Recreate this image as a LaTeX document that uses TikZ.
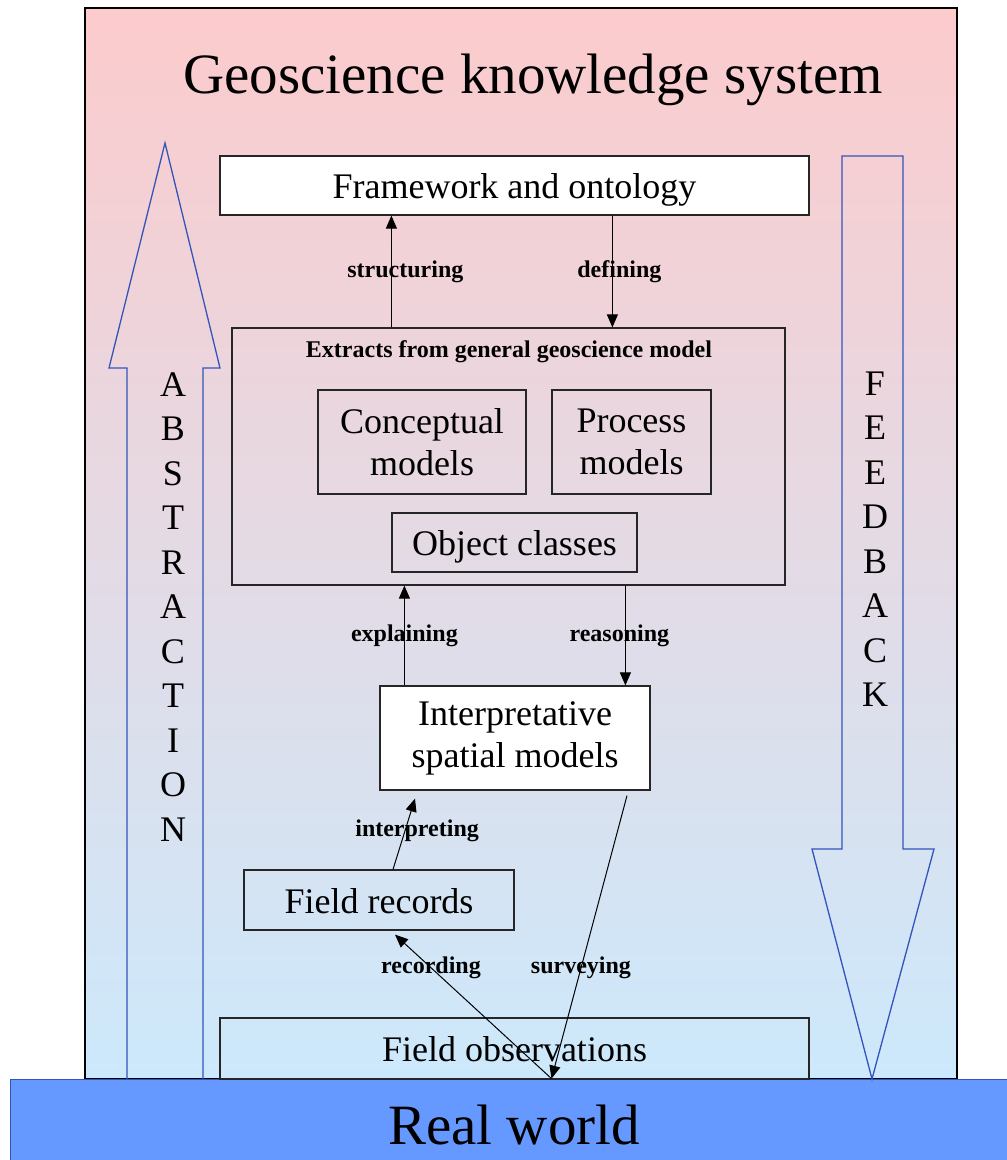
\documentclass[tikz,border=0pt]{standalone}
\usepackage{fontspec}
\setmainfont{Liberation Serif}
\usetikzlibrary{arrows.meta}
\definecolor{toppink}{RGB}{252,203,204}
\definecolor{botblue}{RGB}{204,233,252}
\definecolor{worldblue}{RGB}{102,153,255}
\definecolor{arrowblue}{RGB}{51,85,187}
\begin{document}
\begin{tikzpicture}[x=1pt,y=-1pt,
    box/.style={draw=black!85,line width=1.2pt,inner sep=0pt,align=center,font=\fontsize{36}{42}\selectfont},
    oneline/.style={text height=32pt,text depth=6pt},
    lbl/.style={font=\bfseries\fontsize{24}{26}\selectfont},
    flow/.style={line width=1pt,-{Triangle[length=13pt,width=11pt]}},
    bigarrow/.style={draw=arrowblue,line width=1.3pt},
    stack/.style={align=center,font=\fontsize{36}{44.5}\selectfont}]
  \useasboundingbox (0,0) rectangle (1007,1160);
  \shade[top color=toppink,bottom color=botblue] (85,8) rectangle (957,1079);
  \draw[line width=1.3pt] (85,8) rectangle (957,1079);
  \filldraw[fill=worldblue,draw=arrowblue] (10,1079) rectangle (1007,1160);
  \node[font=\fontsize{57}{60}\selectfont] (world) at (514,1125) {Real world};
  \node[font=\fontsize{57}{60}\selectfont] (title) at (533,80) {Geoscience knowledge system};

  \draw[bigarrow] (127,1079) -- (127,368) -- (109,368) -- (165,143) -- (220,368) -- (203,368) -- (203,1079);
  \draw[bigarrow] (842,156) -- (903,156) -- (903,849) -- (934,849) -- (872,1079) -- (812,849) -- (842,849) -- cycle;
  \node[stack] (abstraction) at (173,607) {A\\B\\S\\T\\R\\A\\C\\T\\I\\O\\N};
  \node[stack] (feedback) at (875,539) {F\\E\\E\\D\\B\\A\\C\\K};

  \node[box,oneline,fill=white,minimum width=589pt,minimum height=59pt] (frame) at (514.5,185.5) {Framework and ontology};
  \node[box,minimum width=553pt,minimum height=257pt] (extracts) at (508.5,456.5) {};
  \node[lbl] (extitle) at (509,352) {Extracts from general geoscience model};
  \node[box,minimum width=208pt,minimum height=104pt] (concept) at (422,442) {Conceptual\\models};
  \node[box,minimum width=159pt,minimum height=104pt] (process) at (631.5,442) {Process\\models};
  \node[box,oneline,minimum width=245pt,minimum height=59pt] (objects) at (514.5,542.5) {Object classes};
  \node[box,fill=white,minimum width=270pt,minimum height=104pt] (interp) at (515,738) {Interpretative\\spatial models};
  \node[box,oneline,minimum width=270pt,minimum height=60pt] (records) at (379,900) {Field records};
  \node[box,oneline,minimum width=589pt,minimum height=61pt] (obs) at (514.5,1048.5) {Field observations};

  \draw[flow] ([xshift=160pt]extracts.north west) coordinate (s0) -- (s0 |- frame.south) node[lbl,midway,xshift=14pt] {structuring};
  \draw[flow] ([xshift=393pt]frame.south west) coordinate (d0) -- (d0 |- extracts.north) node[lbl,midway,xshift=7pt] {defining};
  \draw[flow] ([xshift=25pt]interp.north west) coordinate (e0) -- (e0 |- extracts.south) node[lbl,midway] {explaining};
  \draw[flow] ([xshift=394pt]extracts.south west) coordinate (r0) -- (r0 |- interp.north) node[lbl,midway,xshift=-6pt] {reasoning};
  \coordinate (ground) at ([xshift=37pt,yshift=1pt]obs.south);
  \draw[flow] ([xshift=14pt]records.north) -- ([xshift=-100pt,yshift=-8pt]interp.south) node[lbl,pos=0.55,xshift=12pt] {interpreting};
  \draw[flow] ([xshift=112pt,yshift=-5pt]interp.south) -- (ground) node[lbl,pos=0.61] {surveying};
  \draw[flow] (ground) -- ([xshift=16pt,yshift=-4pt]records.south) node[lbl,pos=0.77] {recording};
\end{tikzpicture}
\end{document}
